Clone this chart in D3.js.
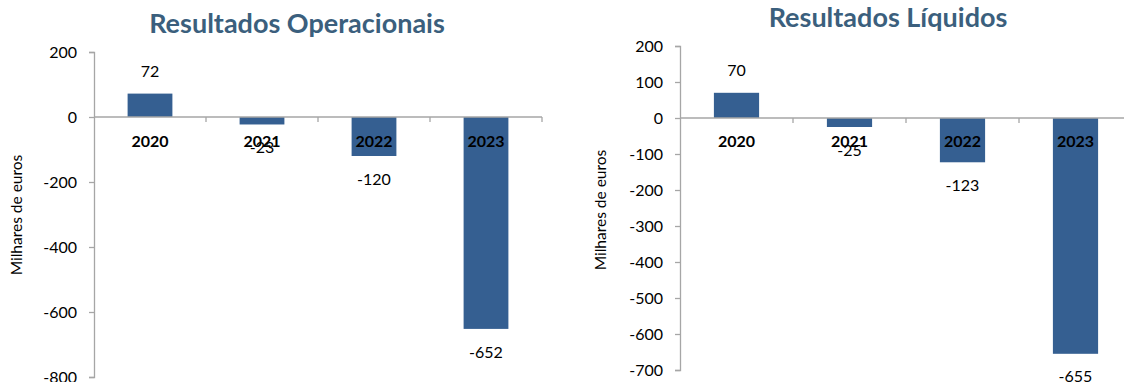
<!DOCTYPE html>
<html>
<head>
<meta charset="utf-8">
<script src="https://cdn.jsdelivr.net/npm/d3@7"></script>
<style>
  body { margin: 0; background: #fff; }
  svg { display: block; font-family: Lato, "Open Sans", sans-serif; }
</style>
</head>
<body>
<svg id="chart" width="1124" height="382"></svg>
<script>
// data
const years = ["2020", "2021", "2022", "2023"];
const operacionais = [72, -23, -120, -652];
const liquidos = [70, -25, -123, -655];
const ticksOperacionais = [200, 0, -200, -400, -600, -800];
const ticksLiquidos = [200, 100, 0, -100, -200, -300, -400, -500, -600, -700];

const barColor = "#355f91";
const titleColor = "#3b5f7d";
const axisColor = "#a6a6a6";

const svg = d3.select("#chart");

function barchart(opts) {
  const g = svg.append("g");

  const x = d3.scaleBand()
    .domain(years)
    .range([opts.x0, opts.x0 + opts.step * years.length])
    .paddingInner(0.6)
    .paddingOuter(0.3);

  const y = d3.scaleLinear()
    .domain(opts.domain)
    .range(opts.yRange);

  // title
  g.append("text")
    .attr("x", opts.titleX)
    .attr("y", opts.titleY)
    .attr("text-anchor", "middle")
    .style("font-weight", "bold")
    .style("font-size", "27px")
    .style("fill", titleColor)
    .text(opts.title);

  // y axis
  const yAxis = d3.axisLeft(y)
    .tickValues(opts.ticks)
    .tickSize(5)
    .tickPadding(12)
    .tickFormat(d3.format("d"));

  const ya = g.append("g")
    .attr("transform", `translate(${opts.x0},0)`)
    .call(yAxis);
  ya.select(".domain").attr("stroke", axisColor).attr("stroke-width", 1.3);
  ya.selectAll(".tick line").attr("stroke", axisColor).attr("stroke-width", 1.3);
  ya.selectAll(".tick text")
    .style("font-family", "Lato, sans-serif")
    .style("font-size", "16px")
    .style("fill", "#000")
    .text(d => d < 0 ? "-" + Math.abs(d) : d);

  // axis title
  g.append("text")
    .attr("transform", `translate(${opts.labelX},${opts.labelY}) rotate(-90)`)
    .attr("text-anchor", "middle")
    .style("font-size", "15.5px")
    .text("Milhares de euros");

  // bars
  g.selectAll(".bar")
    .data(opts.values)
    .enter()
    .append("rect")
    .attr("class", "bar")
    .attr("x", (d, i) => x(years[i]))
    .attr("width", x.bandwidth())
    .attr("y", d => y(Math.max(0, d)))
    .attr("height", d => Math.abs(y(d) - y(0)))
    .style("fill", barColor);

  // zero line with category ticks
  const zeroY = y(0);
  g.append("line")
    .attr("x1", opts.x0).attr("x2", opts.x0 + opts.step * years.length)
    .attr("y1", zeroY).attr("y2", zeroY)
    .attr("stroke", axisColor).attr("stroke-width", 1.3);
  g.selectAll(".xtick")
    .data(d3.range(1, years.length + 1))
    .enter()
    .append("line")
    .attr("x1", i => opts.x0 + i * opts.step)
    .attr("x2", i => opts.x0 + i * opts.step)
    .attr("y1", zeroY).attr("y2", zeroY + 5)
    .attr("stroke", axisColor).attr("stroke-width", 1.3);

  // value labels
  g.selectAll(".val")
    .data(opts.values)
    .enter()
    .append("text")
    .attr("x", (d, i) => x(years[i]) + x.bandwidth() / 2)
    .attr("y", d => d >= 0 ? y(d) - 22 : y(d) + 23)
    .attr("dy", "0.35em")
    .attr("text-anchor", "middle")
    .style("font-size", "16px")
    .text(d => d < 0 ? "-" + Math.abs(d) : d);

  // category labels
  g.selectAll(".year")
    .data(years)
    .enter()
    .append("text")
    .attr("x", d => x(d) + x.bandwidth() / 2)
    .attr("y", opts.yearY)
    .attr("dy", "0.35em")
    .attr("text-anchor", "middle")
    .style("font-size", "16px")
    .style("font-weight", "bold")
    .text(d => d);
}

barchart({
  title: "Resultados Operacionais",
  titleX: 297, titleY: 33,
  values: operacionais,
  ticks: ticksOperacionais,
  domain: [-800, 200],
  yRange: [377, 52],
  x0: 94, step: 112,
  labelX: 22, labelY: 215,
  yearY: 141
});

barchart({
  title: "Resultados Líquidos",
  titleX: 888, titleY: 27,
  values: liquidos,
  ticks: ticksLiquidos,
  domain: [-700, 200],
  yRange: [370, 46],
  x0: 680, step: 113,
  labelX: 606, labelY: 210,
  yearY: 141
});
</script>
</body>
</html>
